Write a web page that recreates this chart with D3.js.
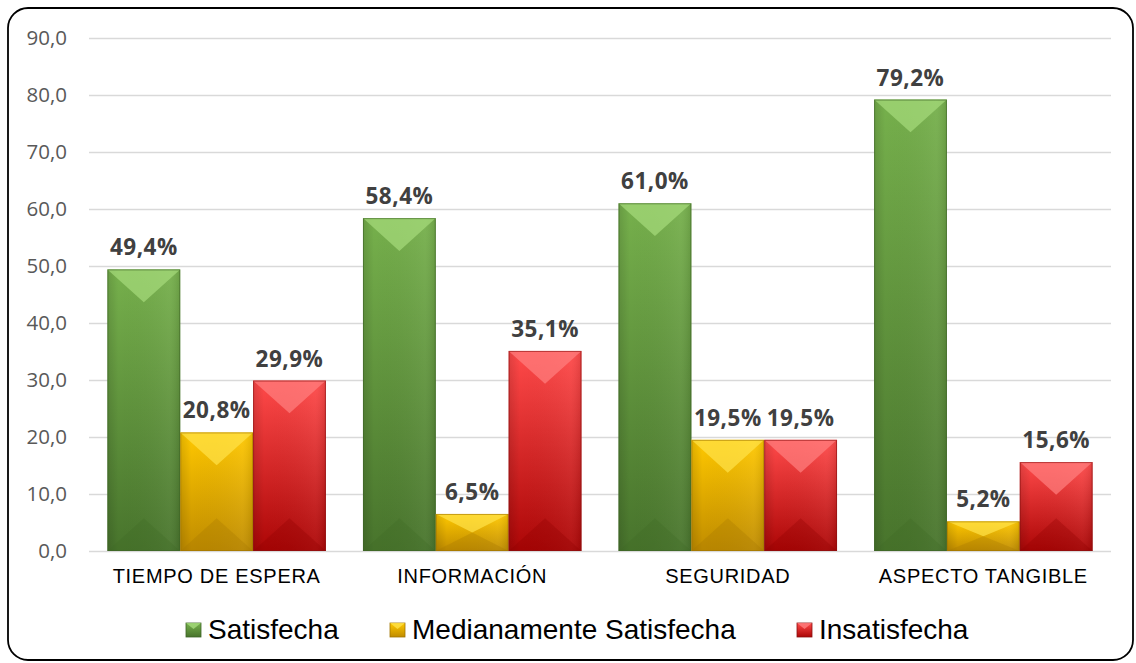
<!DOCTYPE html>
<html>
<head>
<meta charset="utf-8">
<script src="https://cdn.jsdelivr.net/npm/d3@7"></script>
<style>
  body { margin: 0; background: #fff; }
  svg { display: block; }
</style>
</head>
<body>
<div class="container"></div>
<script>
const width = 1136,
    height = 663;

const categories = ["TIEMPO DE ESPERA", "INFORMACIÓN", "SEGURIDAD", "ASPECTO TANGIBLE"];
const seriesNames = ["Satisfecha", "Medianamente Satisfecha", "Insatisfecha"];
const satisfecha = [49.4, 58.4, 61.0, 79.2];
const medianamente = [20.8, 6.5, 19.5, 5.2];
const insatisfecha = [29.9, 35.1, 19.5, 15.6];
const yTicks = [0, 10, 20, 30, 40, 50, 60, 70, 80, 90];

const palette = [
  { top: "#76b04c", bottom: "#48742c", light: "#a6dc7c", dark: "#3f6a26", edge: "#3e6427" },
  { top: "#ffc800", bottom: "#c08c00", light: "#ffe24a", dark: "#a67800", edge: "#a07400" },
  { top: "#ff4a4a", bottom: "#ac0606", light: "#ff8080", dark: "#900000", edge: "#8a1010" }
];

const svg = d3.select(".container")
  .append("svg")
  .attr("width", width)
  .attr("height", height);

const defs = svg.append("defs");
palette.forEach((p, i) => {
  const g = defs.append("linearGradient")
    .attr("id", "grad" + i)
    .attr("x1", 0).attr("y1", 0).attr("x2", 0).attr("y2", 1);
  g.append("stop").attr("offset", "0%").attr("stop-color", p.top);
  g.append("stop").attr("offset", "100%").attr("stop-color", p.bottom);
  const h = defs.append("linearGradient")
    .attr("id", "side" + i)
    .attr("x1", 0).attr("y1", 0).attr("x2", 1).attr("y2", 0);
  h.append("stop").attr("offset", "0%").attr("stop-color", "#000").attr("stop-opacity", 0.12);
  h.append("stop").attr("offset", "15%").attr("stop-color", "#000").attr("stop-opacity", 0);
  h.append("stop").attr("offset", "85%").attr("stop-color", "#fff").attr("stop-opacity", 0.05);
  h.append("stop").attr("offset", "100%").attr("stop-color", "#000").attr("stop-opacity", 0.1);
});

// outer rounded frame
svg.append("rect")
  .attr("x", 8).attr("y", 8)
  .attr("width", 1125).attr("height", 652)
  .attr("rx", 20).attr("ry", 20)
  .attr("fill", "#fff")
  .attr("stroke", "#000")
  .attr("stroke-width", 1.8);

const plotLeft = 89, plotRight = 1111, plotTop = 38, plotBottom = 551;

const x0 = d3.scaleBand()
  .domain(categories)
  .range([plotLeft, plotRight])
  .paddingInner(0.145)
  .paddingOuter(0.072);

const x1 = d3.scaleBand()
  .domain(seriesNames)
  .range([0, x0.bandwidth()]);

const y = d3.scaleLinear()
  .domain([0, 90])
  .range([plotBottom, plotTop]);

// grid + y axis
const yAxis = svg.append("g")
  .attr("transform", `translate(${plotLeft},0)`)
  .call(d3.axisLeft(y).tickValues(yTicks)
    .tickSize(-(plotRight - plotLeft))
    .tickPadding(22)
    .tickFormat(d => d3.format(".1f")(d).replace(".", ",")));
yAxis.select(".domain").remove();
yAxis.selectAll(".tick line").attr("stroke", "#d9d9d9").attr("stroke-width", 1.5);
yAxis.selectAll(".tick text")
  .attr("fill", "#595959")
  .style("font-family", "'Open Sans', sans-serif")
  .style("font-size", "20.5px");

// x axis labels
const xAxis = svg.append("g")
  .attr("transform", `translate(0,${plotBottom})`)
  .call(d3.axisBottom(x0).tickSize(0).tickPadding(18));
xAxis.select(".domain").remove();
xAxis.selectAll(".tick text")
  .attr("fill", "#000")
  .style("font-family", "'Liberation Sans', Arial, sans-serif")
  .style("font-size", "20px")
  .style("letter-spacing", "0.7px");

const seriesValues = [satisfecha, medianamente, insatisfecha];
const rows = [];
categories.forEach((c, ci) => {
  seriesNames.forEach((s, si) => {
    rows.push({ cat: c, series: s, si: si, value: seriesValues[si][ci] });
  });
});

const bars = svg.append("g").selectAll("g.bar")
  .data(rows)
  .enter()
  .append("g")
  .attr("class", "bar");

bars.each(function (d) {
  const g = d3.select(this);
  const bx = x0(d.cat) + x1(d.series);
  const bw = x1.bandwidth();
  const by = y(d.value);
  const bh = plotBottom - by;
  const p = palette[d.si];
  const depth = Math.min(bw * 0.45, bh / 2);

  g.append("rect")
    .attr("x", bx).attr("y", by)
    .attr("width", bw).attr("height", bh)
    .attr("fill", `url(#grad${d.si})`);
  g.append("rect")
    .attr("x", bx).attr("y", by)
    .attr("width", bw).attr("height", bh)
    .attr("fill", `url(#side${d.si})`);
  // top bevel
  g.append("polygon")
    .attr("points", [[bx, by], [bx + bw, by], [bx + bw / 2, by + depth]].join(" "))
    .attr("fill", p.light)
    .attr("opacity", 0.7);
  // bottom bevel
  g.append("polygon")
    .attr("points", [[bx, plotBottom], [bx + bw, plotBottom], [bx + bw / 2, plotBottom - depth]].join(" "))
    .attr("fill", p.dark)
    .attr("opacity", 0.3);
  g.append("rect")
    .attr("x", bx + 0.5).attr("y", by + 0.5)
    .attr("width", bw - 1).attr("height", bh - 1)
    .attr("fill", "none")
    .attr("stroke", p.edge)
    .attr("stroke-opacity", 0.6)
    .attr("stroke-width", 1);

  g.append("text")
    .attr("x", bx + bw / 2)
    .attr("y", by - 14)
    .attr("text-anchor", "middle")
    .attr("fill", "#404040")
    .style("font-family", "'Open Sans', sans-serif")
    .style("font-weight", "bold")
    .style("font-size", "22.5px")
    .style("letter-spacing", "0.5px")
    .text(d3.format(".1f")(d.value).replace(".", ",") + "%");
});

// legend
const legendX = [186, 390, 797];
const legend = svg.append("g").selectAll("g.legend")
  .data(seriesNames)
  .enter()
  .append("g")
  .attr("class", "legend")
  .attr("transform", (d, i) => `translate(${legendX[i]},623)`);

legend.append("rect")
  .attr("width", 15).attr("height", 14)
  .attr("fill", (d, i) => `url(#grad${i})`)
  .attr("stroke", (d, i) => palette[i].edge)
  .attr("stroke-width", 0.8);
legend.append("polygon")
  .attr("points", "0,0 15,0 7.5,6")
  .attr("fill", (d, i) => palette[i].light)
  .attr("opacity", 0.8);

legend.append("text")
  .attr("x", 22)
  .attr("y", 16)
  .attr("fill", "#000")
  .style("font-family", "'Liberation Sans', Arial, sans-serif")
  .style("font-size", "28px")
  .text(d => d);
</script>
</body>
</html>
